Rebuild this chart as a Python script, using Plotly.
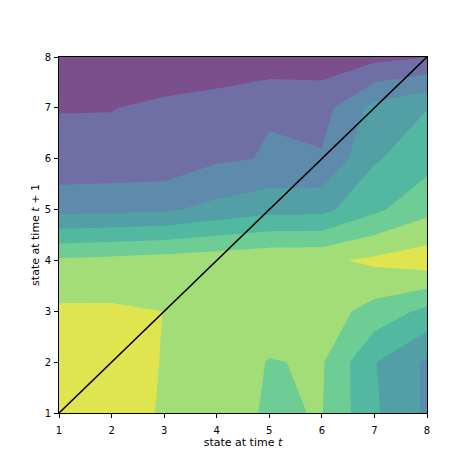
import plotly.graph_objects as go

# states on both axes
states = [1, 2, 3, 4, 5, 6, 7, 8]
tick_labels = ["1", "2", "3", "4", "5", "6", "7", "8"]

# surface values; one list per state at time t+1 (rows), columns = state at time t
row_1 = [7.60, 7.60, 6.87, 6.38, 5.90, 6.04, 4.15, 2.83]
row_2 = [7.60, 7.60, 6.94, 6.60, 5.95, 6.10, 4.05, 2.84]
row_3 = [7.16, 7.14, 6.995, 6.50, 6.60, 6.50, 5.62, 4.75]
row_4 = [6.155, 6.28, 6.43, 6.60, 6.78, 6.80, 7.20, 7.55]
row_5 = [2.69, 2.75, 2.86, 3.30, 3.68, 3.70, 4.80, 5.71]
row_6 = [1.28, 1.31, 1.32, 1.86, 2.06, 2.10, 3.89, 4.63]
row_7 = [0.965, 0.97, 1.22, 1.30, 1.95, 1.62, 3.30, 3.97]
row_8 = [0.30, 0.30, 0.22, 0.51, 0.28, 0.47, 0.70, 0.98]

# contour levels and one colour per filled band (lowest to highest)
level_start, level_end, level_step = 1, 7, 1
band_colors = ["#7a4f8b", "#6f6fa5", "#5e8aab", "#52a0a6",
               "#52b9a0", "#6dcd94", "#a3dd78", "#e0e54f"]

z = [row_1, row_2, row_3, row_4, row_5, row_6, row_7, row_8]
n = len(band_colors) - 1
colorscale = [[k / n, c] for k, c in enumerate(band_colors)]

font = "DejaVu Sans, Verdana, sans-serif"

fig = go.Figure()
fig.add_trace(go.Contour(
    x=states, y=states, z=z,
    autocontour=False,
    contours=dict(start=level_start, end=level_end, size=level_step,
                  coloring="fill", showlines=False),
    colorscale=colorscale,
    showscale=False,
    line=dict(width=0, smoothing=0),
    hoverinfo="skip",
))
fig.add_trace(go.Scatter(
    x=[states[0], states[-1]], y=[states[0], states[-1]],
    mode="lines", line=dict(color="black", width=1.6),
    showlegend=False, hoverinfo="skip",
))

axis_common = dict(
    range=[states[0], states[-1]],
    tickvals=states, ticktext=tick_labels,
    ticks="outside", ticklen=4, tickwidth=1, tickcolor="black",
    showline=True, linecolor="black", linewidth=1, mirror=True,
    showgrid=False, zeroline=False,
    tickfont=dict(family=font, size=10, color="black"),
)

fig.update_layout(
    width=474, height=474,
    margin=dict(l=51, r=55, t=49, b=69),
    paper_bgcolor="white", plot_bgcolor="white",
    showlegend=False,
    xaxis=dict(axis_common, ticklabelstandoff=4,
               title=dict(text="state at time <i>t</i>",
                          font=dict(family=font, size=11, color="black"),
                          standoff=1)),
    yaxis=dict(axis_common, ticklabelstandoff=1,
               title=dict(text="state at time <i>t</i> + 1",
                          font=dict(family=font, size=11, color="black"),
                          standoff=2)),
)

fig.write_html("out.html")
